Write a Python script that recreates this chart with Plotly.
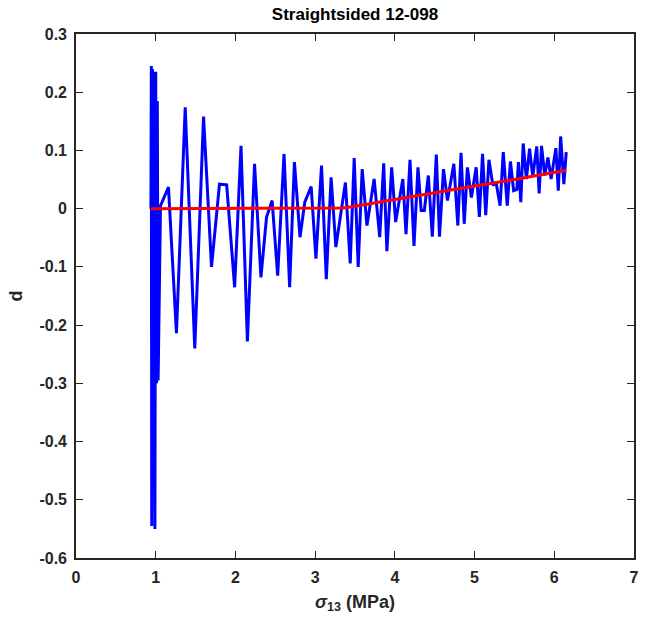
import plotly.graph_objects as go

# Blue series (raw d vs sigma13)
blue_x = [0.94, 0.945, 0.95, 0.96, 0.97, 0.975, 0.99, 1.0, 1.01, 1.02, 1.03, 1.06,
          1.16, 1.26, 1.37, 1.49, 1.60, 1.70, 1.80, 1.89, 1.99, 2.07, 2.15, 2.24, 2.32,
          2.39, 2.46, 2.53, 2.61, 2.68, 2.74, 2.81, 2.87, 2.95, 3.01, 3.08, 3.14, 3.20,
          3.26, 3.38, 3.44, 3.49, 3.54, 3.59, 3.65, 3.74, 3.81, 3.86, 3.90, 3.96, 4.01,
          4.10, 4.14, 4.19, 4.24, 4.29, 4.33, 4.37, 4.42, 4.47, 4.52, 4.56, 4.61, 4.66,
          4.74, 4.79, 4.83, 4.87, 4.91, 4.96, 5.02, 5.06, 5.10, 5.14, 5.18, 5.23, 5.27,
          5.32, 5.36, 5.41, 5.45, 5.49, 5.53, 5.55, 5.58, 5.61, 5.65, 5.69, 5.73, 5.78,
          5.81, 5.84, 5.88, 5.92, 5.96, 6.02, 6.05, 6.08, 6.12, 6.15]
blue_y = [0.0, 0.245, -0.545, 0.24, -0.45, 0.235, -0.55, 0.235, -0.30, 0.185, -0.295, 0.005,
          0.037, -0.214, 0.174, -0.24, 0.158, -0.10, 0.042, 0.041, -0.135, 0.108, -0.228, 0.077, -0.118,
          -0.015, 0.014, -0.115, 0.094, -0.135, 0.080, -0.049, 0.011, 0.038, -0.086, 0.074, -0.121, 0.054,
          -0.066, 0.045, -0.094, 0.087, -0.100, 0.068, -0.029, 0.051, -0.049, 0.078, -0.073, 0.071, -0.023,
          0.051, -0.044, 0.084, -0.064, 0.071, -0.003, -0.003, 0.057, -0.048, 0.093, -0.048, 0.068, 0.014,
          0.077, -0.029, 0.096, -0.026, 0.071, 0.019, 0.071, -0.014, 0.094, -0.011, 0.084, 0.040, 0.045,
          0.005, 0.097, 0.005, 0.081, 0.031, 0.033, 0.080, 0.011, 0.112, 0.051, 0.103, 0.055, 0.107,
          0.026, 0.108, 0.057, 0.088, 0.051, 0.104, 0.031, 0.124, 0.042, 0.097]

# Red series (fitted trend)
red_x = [0.94, 1.5, 2.0, 2.5, 3.0, 3.35, 3.5, 4.0, 4.5, 5.0, 5.5, 6.0, 6.15]
red_y = [0.0, 0.0, 0.0, 0.0, 0.0, 0.001, 0.004, 0.016, 0.027, 0.039, 0.050, 0.062, 0.066]

x_ticks = [0, 1, 2, 3, 4, 5, 6, 7]
x_ticktext = ["0", "1", "2", "3", "4", "5", "6", "7"]
y_ticks = [-0.6, -0.5, -0.4, -0.3, -0.2, -0.1, 0, 0.1, 0.2, 0.3]
y_ticktext = ["-0.6", "-0.5", "-0.4", "-0.3", "-0.2", "-0.1", "0", "0.1", "0.2", "0.3"]

axis_color = "#262626"
fam = "Liberation Sans, Arial, sans-serif"
tick_font = dict(family=fam, size=16, color=axis_color, weight="bold")

fig = go.Figure()
fig.add_trace(go.Scatter(x=blue_x, y=blue_y, mode="lines",
                         line=dict(color="#0000FF", width=3), showlegend=False))
fig.add_trace(go.Scatter(x=red_x, y=red_y, mode="lines",
                         line=dict(color="#FF0000", width=3), showlegend=False))

fig.update_layout(
    width=645, height=626,
    margin=dict(l=76, r=6, t=34, b=68),
    paper_bgcolor="white", plot_bgcolor="white",
    title=dict(text="Straightsided 12-098", x=0.5, xanchor="center", y=0.977, yanchor="middle",
               xref="paper",
               font=dict(family=fam, size=17, color="black", weight="bold")),
    xaxis=dict(range=[0, 7], tickvals=x_ticks, ticktext=x_ticktext,
               showgrid=False, zeroline=False, showline=True, linecolor=axis_color, linewidth=1.6,
               mirror="ticks", ticks="inside", ticklen=7, tickwidth=1.4, tickcolor=axis_color,
               tickfont=tick_font, ticklabelstandoff=4,
               title=dict(text="<i>σ</i><sub>13</sub> (MPa)", standoff=10,
                          font=dict(family=fam, size=18, color=axis_color, weight="bold"))),
    yaxis=dict(range=[-0.6, 0.3], tickvals=y_ticks, ticktext=y_ticktext,
               showgrid=False, zeroline=False, showline=True, linecolor=axis_color, linewidth=1.6,
               mirror="ticks", ticks="inside", ticklen=7, tickwidth=1.4, tickcolor=axis_color,
               tickfont=tick_font, ticklabelstandoff=4,
               title=dict(text="d", standoff=12,
                          font=dict(family=fam, size=18, color=axis_color, weight="bold"))),
)

fig.write_html("out.html")
